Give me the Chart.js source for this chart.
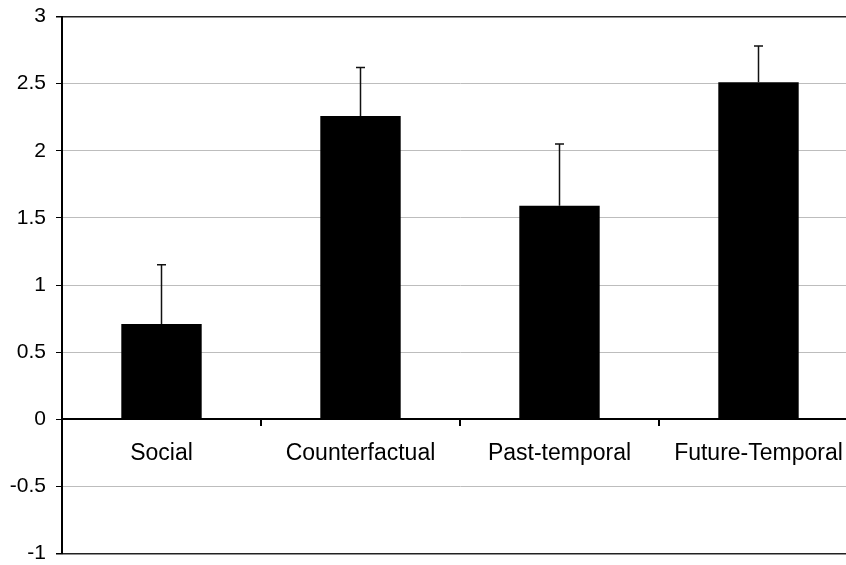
<!DOCTYPE html>
<html>
<head>
<meta charset="utf-8">
<script src="https://cdn.jsdelivr.net/npm/chart.js@4"></script>
<style>
  html, body { margin: 0; padding: 0; background: #fff; overflow: hidden; }
  #frame { width: 846px; height: 565px; position: relative; overflow: hidden; }
  #wrap { width: 862px; height: 582px; position: absolute; left: 0; top: -6px; }
</style>
</head>
<body>
<div id="frame"><div id="wrap"><canvas id="chart"></canvas></div></div>
<script>
const categories = ['Social', 'Counterfactual', 'Past-temporal', 'Future-Temporal'];
const means = [0.71, 2.26, 1.59, 2.51];
const errors = [0.44, 0.36, 0.46, 0.27];

// upward-only error bars with a small cap
const errorBars = {
    id: 'errorBars',
    afterDatasetsDraw(chart) {
        const ctx = chart.ctx;
        const yScale = chart.scales.y;
        const meta = chart.getDatasetMeta(0);
        ctx.save();
        ctx.strokeStyle = '#111';
        ctx.lineWidth = 1.5;
        meta.data.forEach((bar, i) => {
            const top = yScale.getPixelForValue(means[i] + errors[i]);
            ctx.beginPath();
            ctx.moveTo(bar.x, bar.y);
            ctx.lineTo(bar.x, top);
            ctx.moveTo(bar.x - 4.5, top);
            ctx.lineTo(bar.x + 4.5, top);
            ctx.stroke();
        });
        ctx.restore();
    }
};

new Chart(document.getElementById('chart'), {
    type: 'bar',
    data: {
        labels: categories,
        datasets: [{
            data: means,
            backgroundColor: '#000',
            borderWidth: 0,
            barPercentage: 0.8,
            categoryPercentage: 0.505
        }]
    },
    options: {
        responsive: true,
        maintainAspectRatio: false,
        animation: false,
        layout: { padding: { top: 4, right: 4, bottom: 0, left: 0 } },
        plugins: { legend: { display: false }, tooltip: { enabled: false } },
        scales: {
            x: {
                position: { y: 0 },
                grid: { drawOnChartArea: false, tickLength: 6, tickColor: '#000', lineWidth: 2, offset: true },
                border: { color: '#000', width: 2 },
                ticks: { color: '#000', padding: 15, font: { family: 'Liberation Sans', size: 23 } }
            },
            y: {
                min: -1,
                max: 3,
                afterFit(scale) { scale.width = 62; },
                grid: {
                    tickLength: 6,
                    tickColor: '#000',
                    lineWidth: c => (c.tick && (c.tick.value === 3 || c.tick.value === -1)) ? 1.5 : 1,
                    color: c => (c.tick && (c.tick.value === 3 || c.tick.value === -1)) ? '#222' : '#bdbdbd'
                },
                border: { color: '#000', width: 2 },
                ticks: {
                    stepSize: 0.5,
                    color: '#000',
                    padding: 10,
                    font: { family: 'Liberation Sans', size: 21 },
                    callback: v => String(+v.toFixed(1))
                }
            }
        }
    },
    plugins: [errorBars]
});
</script>
</body>
</html>
